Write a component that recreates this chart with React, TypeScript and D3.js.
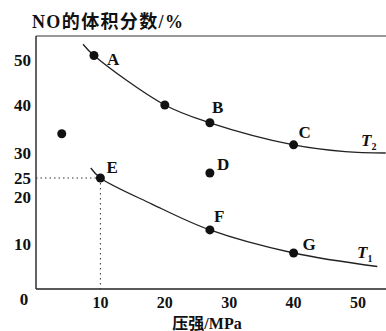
import React from "react";
import * as d3 from "d3";

// NO volume fraction vs pressure, two isotherms T1 / T2
const xTicks = [10, 20, 30, 40, 50];
const yTicks = [10, 20, 25, 30, 40, 50];

const pointNames = ["A", "B", "C", "D", "E", "F", "G"];
const pointX = [9, 27, 40, 27, 10, 27, 40];
const pointY = [51, 36.3, 31.7, 26, 25, 13, 8];

// unlabeled dots
const extraX = [20, 4];
const extraY = [40, 34];

// curves
const t2X = [7.3, 9, 20, 27, 40, 48, 54.3];
const t2Y = [53.5, 51, 40, 36.3, 31.7, 30.3, 30];
const t1X = [8.5, 10, 18, 27, 40, 53];
const t1Y = [27, 25, 18.5, 13, 8, 5];

const W = 386;
const H = 331;

export default function App() {
  const x = d3.scaleLinear().domain([0, 50]).range([36, 358]);
  // the printed axis is not quite even, so a polylinear scale
  const y = d3
    .scaleLinear()
    .domain([0, 10, 20, 25, 30, 40, 50])
    .range([289, 244, 197, 178, 153, 105, 60]);

  const line = d3
    .line<[number, number]>()
    .x((d) => x(d[0]))
    .y((d) => y(d[1]))
    .curve(d3.curveCatmullRom.alpha(0.5));

  const t2 = t2X.map((v, i) => [v, t2Y[i]] as [number, number]);
  const t1 = t1X.map((v, i) => [v, t1Y[i]] as [number, number]);

  const labelOff: Record<string, [number, number]> = {
    A: [13, 9],
    B: [2, -10],
    C: [5, -7],
    D: [7, -3],
    E: [6, -5],
    F: [4, -8],
    G: [9, -3],
  };

  const font = "'Liberation Serif', 'Noto Sans CJK SC', serif";
  const ex = pointX[4], ey = pointY[4];

  return (
    <svg
      width={W}
      height={H}
      style={{ position: "absolute", left: 0, top: 0, background: "#fff" }}
      fontFamily={font}
      fontWeight="bold"
    >
      {/* frame */}
      <line x1={36} x2={W} y1={36} y2={36} stroke="#333" strokeWidth={1.2} />
      <line x1={36} x2={36} y1={36} y2={289} stroke="#222" strokeWidth={1.4} />
      <line x1={36} x2={W} y1={289} y2={289} stroke="#222" strokeWidth={1.4} />

      <text x={32} y={28} fontSize={18} fill="#111" textLength={151}>
        NO的体积分数/%
      </text>

      {yTicks.map((t) => (
        <text key={t} x={31} y={y(t) + 6} fontSize={17} textAnchor="end" fill="#111">
          {t}
        </text>
      ))}
      <text x={24} y={305} fontSize={17} textAnchor="middle" fill="#111">
        0
      </text>
      {xTicks.map((t) => (
        <text key={t} x={x(t)} y={308} fontSize={16} textAnchor="middle" fill="#111">
          {t}
        </text>
      ))}
      <text x={207} y={329} fontSize={16} textAnchor="middle" fill="#111">
        压强/MPa
      </text>

      {/* dotted guides to E */}
      <line x1={36} x2={x(ex)} y1={y(ey)} y2={y(ey)} stroke="#333" strokeWidth={1} strokeDasharray="1.5,3" />
      <line x1={x(ex)} x2={x(ex)} y1={y(ey)} y2={289} stroke="#333" strokeWidth={1} strokeDasharray="1.5,3.5" />

      <path d={line(t2) || ""} fill="none" stroke="#222" strokeWidth={1.3} />
      <path d={line(t1) || ""} fill="none" stroke="#222" strokeWidth={1.3} />

      {pointNames.map((n, i) => (
        <g key={n}>
          <circle cx={x(pointX[i])} cy={y(pointY[i])} r={4.5} fill="#111" />
          <text
            x={x(pointX[i]) + labelOff[n][0]}
            y={y(pointY[i]) + labelOff[n][1]}
            fontSize={17}
            fill="#111"
          >
            {n}
          </text>
        </g>
      ))}
      {extraX.map((v, i) => (
        <circle key={i} cx={x(v)} cy={y(extraY[i])} r={4.5} fill="#111" />
      ))}

      <text x={361} y={146} fontSize={17} fontStyle="italic" fill="#111">
        T<tspan fontSize={10} fontStyle="normal" dy={4}>2</tspan>
      </text>
      <text x={357} y={258} fontSize={17} fontStyle="italic" fill="#111">
        T<tspan fontSize={10} fontStyle="normal" dy={4}>1</tspan>
      </text>
    </svg>
  );
}
